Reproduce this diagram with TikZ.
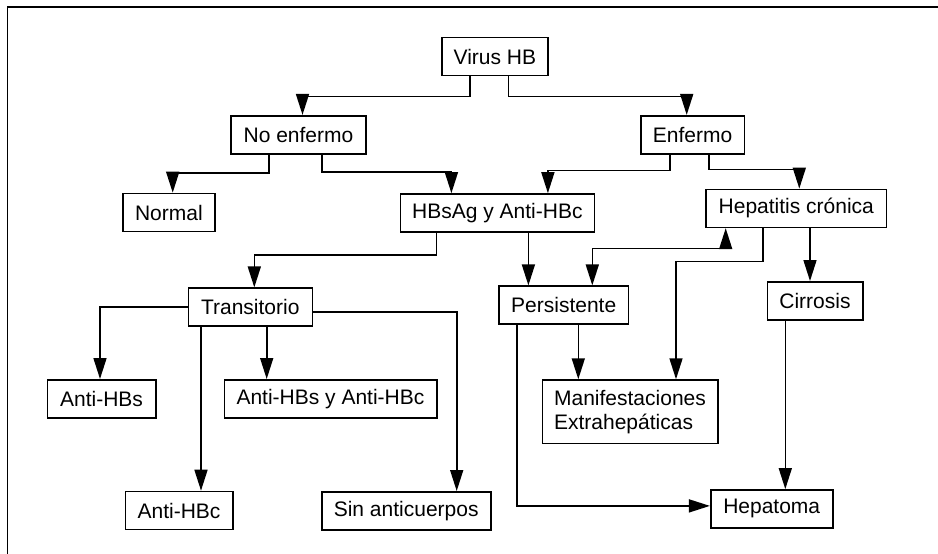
\documentclass[tikz,border=0pt]{standalone}
\usepackage{fontspec}
\setmainfont{Liberation Sans}
\usetikzlibrary{
  arrows.meta,
  shapes
}

\begin{document}
\begin{tikzpicture}[
  x=1pt, y=-1pt,
  every node/.style = {shape=rectangle, draw, line width=1.6pt,
    inner sep=0pt, minimum height=38pt,
    font=\fontsize{21}{24}\selectfont},
  arr/.style = {line width=1.6pt,
    -{Triangle[length=21pt,width=13pt]}},
  both/.style = {line width=1.6pt,
    {Triangle[length=21pt,width=13pt]}-{Triangle[length=21pt,width=13pt]}}]
  \useasboundingbox (0,0) rectangle (938,554);
  \draw[line width=1.6pt] (938,7) -- (7.3,7) -- (7.3,554);

  % first rows
  \node[minimum width=106pt] (virus) at (494.9,56.5) {Virus HB};
  \node[minimum width=135pt] (noenf) at (298.5,134.7) {No enfermo};
  \node[minimum width=103.6pt] (enf) at (692.5,134.7) {Enfermo};
  \node[minimum width=92.3pt] (normal) at (168.9,212.5) {Normal};
  \node[minimum width=194pt] (hbsag) at (497.4,213) {HBsAg y Anti-HBc};
  \node[minimum width=180.5pt] (hepat) at (796.3,208.4) {Hepatitis crónica};

  % middle rows
  \node[minimum width=124pt] (trans) at (250.3,307.2) {Transitorio};
  \node[minimum width=129.3pt] (persist) at (563.7,305.2) {Persistente};
  \node[minimum width=95.4pt] (cirr) at (815,300.8) {Cirrosis};
  \node[minimum width=108.4pt] (antihbs) at (101.5,398.8) {Anti-HBs};
  \node[minimum width=212.4pt] (antiboth) at (330.5,398.8) {Anti-HBs y Anti-HBc};
  \node[minimum width=175.4pt, minimum height=63.3pt, align=left]
    (manif) at (630,411.7) {Manifestaciones\\Extrahepáticas};

  % last row
  \node[minimum width=107.4pt] (antihbc) at (179,510.5) {Anti-HBc};
  \node[minimum width=169pt] (sinac) at (406.2,510.8) {Sin anticuerpos};
  \node[minimum width=122pt] (hepatoma) at (771.7,508.9) {Hepatoma};

  % connectors
  \draw[arr] ([xshift=-24.9pt]virus.south) -- ++(0,20) -| ([xshift=4pt]noenf.north);
  \draw[arr] ([xshift=13.7pt]virus.south) -- ++(0,20) -| ([xshift=-5.8pt]enf.north);
  \draw[arr] ([xshift=-29.5pt]noenf.south) -- ++(0,18.4) -| ([xshift=3.8pt]normal.north);
  \draw[arr] ([xshift=23.2pt]noenf.south) -- ++(0,17.4) -| ([xshift=-46pt]hbsag.north);
  \draw[arr] ([xshift=-22.5pt]enf.south) -- ++(0,16) -| ([xshift=50.5pt]hbsag.north);
  \draw[arr] ([xshift=16.5pt]enf.south) -- ++(0,15) -| ([xshift=3pt]hepat.north);
  \draw[arr] ([xshift=-60.8pt]hbsag.south) -- ++(0,22.3) -| ([xshift=4pt]trans.north);
  \draw[arr] ([xshift=31pt]hbsag.south) -- ([xshift=31pt]hbsag.south |- persist.north);
  \draw[both] ([xshift=-70.6pt]hepat.south) -- ++(0,20.2) -| ([xshift=28.6pt]persist.north);
  \draw[arr] ([xshift=-33.6pt]hepat.south) -- ++(0,33.2) -| ([xshift=46pt]manif.north);
  \draw[arr] ([xshift=13.7pt]hepat.south) -- ([xshift=13.7pt]hepat.south |- cirr.north);
  \draw[arr] ([xshift=-29.7pt]cirr.south) -- ([xshift=-29.7pt]cirr.south |- hepatoma.north);
  \draw[arr] ([xshift=14.6pt]persist.south) -- ([xshift=14.6pt]persist.south |- manif.north);
  \draw[arr] ([xshift=-47pt]persist.south) |- ([yshift=3pt]hepatoma.west);
  \draw[arr] (trans.west) -| ([xshift=-1.5pt]antihbs.north);
  \draw[arr] ([xshift=-49.3pt]trans.south) -- ([xshift=-49.3pt]trans.south |- antihbc.north);
  \draw[arr] ([xshift=16.4pt]trans.south) -- ([xshift=16.4pt]trans.south |- antiboth.north);
  \draw[arr] ([yshift=-4.5pt]trans.east) -| ([xshift=50.5pt]sinac.north);
\end{tikzpicture}
\end{document}
